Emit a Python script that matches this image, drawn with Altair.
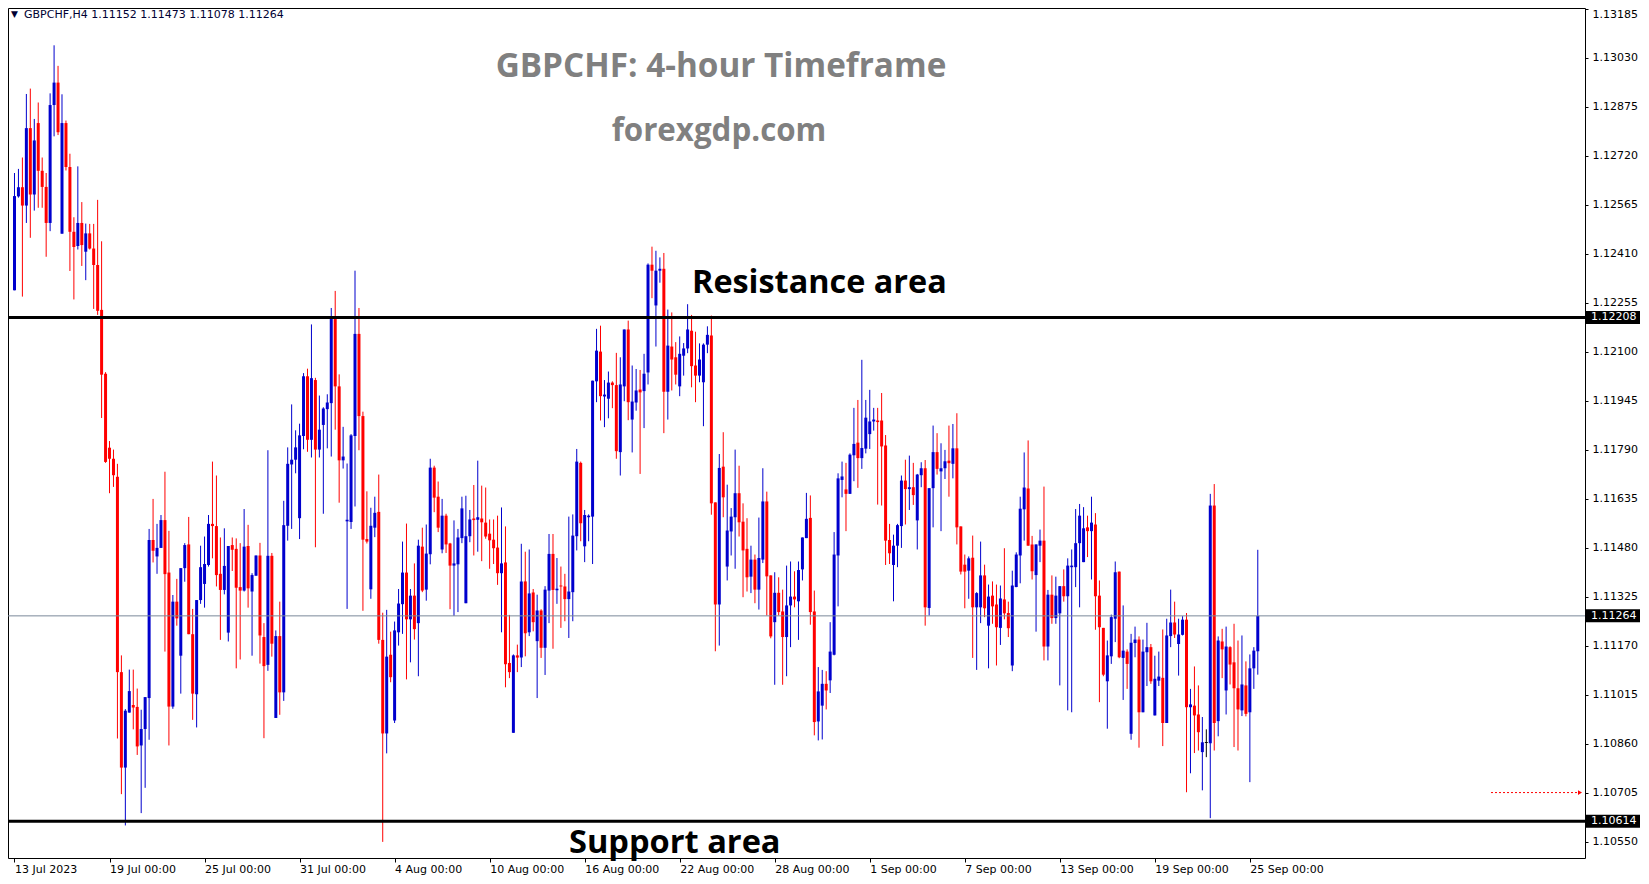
import altair as alt
import pandas as pd

# ---------------- data ----------------
OPEN = [
1.12294,1.12591,1.12620,1.12562,1.12807,1.12597,1.12823,1.12672,1.12621,1.12507,
1.12880,1.12951,1.12473,1.12823,1.12684,1.12479,1.12434,1.12507,1.12416,1.12474,
1.12426,1.12374,1.12232,1.12030,1.11796,1.11761,1.11704,1.11086,1.10784,1.10958,
1.10982,1.10976,1.10854,1.10906,1.11004,1.11504,1.11452,1.11479,1.11567,1.11401,
1.10977,1.11309,1.11138,1.11415,1.11490,1.11206,1.11016,1.11314,1.11365,1.11425,
1.11555,1.11548,1.11397,1.11346,1.11211,1.11488,1.11476,1.11355,1.11344,1.11485,
1.11341,1.11391,1.11455,1.11197,1.11109,1.11454,1.10941,1.11200,1.11022,1.11549,
1.11743,1.11758,1.11573,1.11833,1.12022,1.11821,1.12010,1.11790,1.11868,1.11918,
1.11937,1.12206,1.11990,1.11756,1.11563,1.11561,1.11833,1.12156,1.11896,1.11507,
1.11348,1.11543,1.11593,1.11188,1.10892,1.11141,1.10933,1.11212,1.11301,1.11401,
1.11253,1.11328,1.11241,1.11483,1.11347,1.11459,1.11733,1.11641,1.11474,1.11581,
1.11493,1.11423,1.11427,1.11510,1.11304,1.11516,1.11572,1.11568,1.11572,1.11559,
1.11524,1.11505,1.11480,1.11399,1.11433,1.11115,1.10894,1.11139,1.11132,1.11373,
1.11212,1.11338,1.11184,1.11281,1.11163,1.11344,1.11460,1.11345,1.11360,1.11357,
1.11317,1.11339,1.11516,1.11748,1.11484,1.11576,1.11578,1.12006,1.12100,1.11958,
1.11951,1.12002,1.11994,1.11782,1.11990,1.12170,1.11885,1.11939,1.11980,1.11975,
1.12034,1.12375,1.12246,1.12356,1.12362,1.11973,1.12116,1.12082,1.11990,1.12087,
1.12110,1.12166,1.12056,1.12024,1.12003,1.12122,1.12151,1.11623,1.11300,1.11736,
1.11420,1.11531,1.11576,1.11652,1.11562,1.11476,1.11388,1.11442,1.11347,1.11442,
1.11626,1.11392,1.11244,1.11337,1.11278,1.11197,1.11297,1.11325,1.11310,1.11411,
1.11510,1.11574,1.11278,1.10930,1.10980,1.11049,1.11060,1.11141,1.11455,1.11694,
1.11664,1.11650,1.11772,1.11812,1.11763,1.11793,1.11839,1.11879,1.11882,1.11882,
1.11803,1.11504,1.11425,1.11486,1.11548,1.11692,1.11665,1.11671,1.11566,1.11709,
1.11731,1.11289,1.11668,1.11782,1.11721,1.11731,1.11755,1.11745,1.11794,1.11547,
1.11426,1.11407,1.11448,1.11291,1.11291,1.11392,1.11233,1.11328,1.11300,1.11226,
1.11316,1.11273,1.11107,1.11355,1.11455,1.11601,1.11667,1.11490,1.11393,1.11486,
1.11502,1.11167,1.11331,1.11257,1.11272,1.11358,1.11326,1.11418,1.11418,1.11494,
1.11434,1.11544,1.11532,1.11553,1.11328,1.11226,1.11057,1.11136,1.11255,1.11404,
1.11131,1.11151,1.10891,1.11178,1.11189,1.10959,1.11149,1.11165,1.10949,1.11059,
1.11068,1.10925,1.11200,1.11243,1.11175,1.11204,1.11252,1.10975,1.10980,1.10952,
1.10833,1.10862,1.10861,1.11613,1.10931,1.11183,1.11028,1.11165,1.11117,1.11035,
1.10965,1.11044,1.10959,1.11098,1.11152]

HIGH = [
1.12665,1.12678,1.12714,1.12915,1.12932,1.12836,1.12888,1.12714,1.12665,1.12917,
1.13069,1.13004,1.12914,1.12831,1.12726,1.12525,1.12686,1.12573,1.12505,1.12504,
1.12504,1.12580,1.12449,1.12035,1.11817,1.11790,1.11745,1.11139,1.10969,1.11094,
1.11094,1.11034,1.10967,1.11007,1.11539,1.11634,1.11555,1.11583,1.11720,1.11533,
1.11330,1.11381,1.11415,1.11494,1.11577,1.11286,1.11314,1.11486,1.11515,1.11583,
1.11752,1.11708,1.11512,1.11541,1.11485,1.11512,1.11509,1.11494,1.11602,1.11552,
1.11399,1.11455,1.11495,1.11241,1.11788,1.11463,1.11218,1.11309,1.11628,1.11797,
1.11933,1.11851,1.11872,1.12032,1.12046,1.12186,1.12017,1.11961,1.11924,1.11965,
1.12238,1.12292,1.12028,1.11862,1.11746,1.11839,1.12356,1.12238,1.11910,1.11658,
1.11606,1.11641,1.11711,1.11274,1.11283,1.11214,1.11246,1.11349,1.11499,1.11556,
1.11349,1.11430,1.11505,1.11543,1.11553,1.11761,1.11739,1.11689,1.11634,1.11587,
1.11495,1.11566,1.11539,1.11641,1.11644,1.11599,1.11678,1.11755,1.11676,1.11670,
1.11569,1.11569,1.11581,1.11607,1.11547,1.11267,1.11142,1.11173,1.11492,1.11467,
1.11474,1.11349,1.11331,1.11285,1.11358,1.11523,1.11523,1.11447,1.11420,1.11397,
1.11578,1.11585,1.11792,1.11752,1.11599,1.11585,1.12008,1.12172,1.12182,1.12010,
1.12037,1.12006,1.12096,1.12082,1.12170,1.12198,1.12056,1.12045,1.12042,1.12093,
1.12379,1.12432,1.12419,1.12398,1.12412,1.12233,1.12224,1.12130,1.12148,1.12127,
1.12250,1.12216,1.12163,1.12126,1.12126,1.12180,1.12214,1.11623,1.11776,1.11845,
1.11679,1.11605,1.11790,1.11739,1.11620,1.11573,1.11486,1.11458,1.11575,1.11731,
1.11657,1.11392,1.11402,1.11386,1.11347,1.11423,1.11436,1.11405,1.11436,1.11512,
1.11653,1.11645,1.11344,1.11102,1.11093,1.11089,1.11244,1.11529,1.11715,1.11752,
1.11748,1.11778,1.11922,1.11947,1.12074,1.11947,1.11979,1.11922,1.11922,1.11969,
1.11836,1.11555,1.11521,1.11555,1.11708,1.11758,1.11771,1.11748,1.11713,1.11750,
1.11757,1.11668,1.11866,1.11842,1.11810,1.11789,1.11866,1.11871,1.11905,1.11547,
1.11458,1.11452,1.11518,1.11339,1.11499,1.11426,1.11363,1.11373,1.11363,1.11360,
1.11478,1.11309,1.11407,1.11465,1.11641,1.11781,1.11819,1.11517,1.11490,1.11537,
1.11673,1.11346,1.11392,1.11388,1.11358,1.11411,1.11446,1.11474,1.11602,1.11618,
1.11608,1.11581,1.11641,1.11589,1.11376,1.11226,1.11186,1.11268,1.11436,1.11404,
1.11297,1.11158,1.11207,1.11230,1.11199,1.11189,1.11242,1.11175,1.11138,1.11151,
1.11221,1.11255,1.11347,1.11309,1.11255,1.11263,1.11273,1.11033,1.11104,1.11044,
1.10944,1.10905,1.11650,1.11681,1.11199,1.11223,1.11230,1.11168,1.11239,1.11186,
1.11202,1.11120,1.11142,1.11165,1.11473]

LOW = [
1.12294,1.12587,1.12274,1.12507,1.12460,1.12546,1.12555,1.12555,1.12400,1.12481,
1.12781,1.12785,1.12473,1.12673,1.12355,1.12265,1.12423,1.12371,1.12326,1.12423,
1.12235,1.12216,1.11890,1.11748,1.11652,1.11672,1.10876,1.10700,1.10601,1.10958,
1.10905,1.10824,1.10640,1.10720,1.10872,1.11433,1.11397,1.11479,1.11151,1.10854,
1.10970,1.11233,1.11018,1.11372,1.11206,1.10935,1.10911,1.11302,1.11290,1.11420,
1.11446,1.11357,1.11188,1.11332,1.11183,1.11406,1.11098,1.11126,1.11341,1.11290,
1.11138,1.11391,1.11113,1.10877,1.11090,1.11135,1.10941,1.10951,1.10995,1.11502,
1.11539,1.11715,1.11507,1.11791,1.11783,1.11765,1.11481,1.11765,1.11587,1.11794,
1.11768,1.11853,1.11622,1.11730,1.11286,1.11539,1.11610,1.11788,1.11280,1.11493,
1.11318,1.11513,1.11176,1.10549,1.10829,1.11054,1.10925,1.11170,1.11207,1.11063,
1.11117,1.11189,1.11073,1.11339,1.11312,1.11427,1.11592,1.11529,1.11462,1.11463,
1.11285,1.11264,1.11276,1.11494,1.11304,1.11497,1.11455,1.11467,1.11437,1.11508,
1.11413,1.11428,1.11362,1.11212,1.11038,1.11067,1.10894,1.11086,1.11102,1.11136,
1.11200,1.11215,1.11004,1.11131,1.11077,1.11241,1.11160,1.11302,1.11226,1.11247,
1.11194,1.11247,1.11471,1.11500,1.11434,1.11500,1.11428,1.11940,1.11882,1.11861,
1.11889,1.11921,1.11761,1.11708,1.11943,1.11883,1.11781,1.11913,1.11713,1.11858,
1.11996,1.12269,1.12116,1.12318,1.11842,1.11885,1.11977,1.11996,1.11959,1.12024,
1.12095,1.11987,1.11940,1.12003,1.11864,1.12095,1.11584,1.11152,1.11170,1.11576,
1.11376,1.11455,1.11413,1.11515,1.11323,1.11341,1.11336,1.11304,1.11284,1.11431,
1.11265,1.11193,1.11046,1.11265,1.11046,1.11073,1.11165,1.11291,1.11188,1.11376,
1.11510,1.11236,1.10886,1.10870,1.10873,1.10968,1.11020,1.11139,1.11294,1.11639,
1.11532,1.11650,1.11690,1.11669,1.11729,1.11778,1.11792,1.11850,1.11616,1.11613,
1.11425,1.11428,1.11310,1.11418,1.11479,1.11553,1.11599,1.11615,1.11474,1.11671,
1.11233,1.11265,1.11544,1.11711,1.11532,1.11697,1.11641,1.11699,1.11490,1.11395,
1.11288,1.11318,1.11131,1.11093,1.11241,1.11260,1.11098,1.11239,1.11107,1.11172,
1.11253,1.11197,1.11089,1.11355,1.11367,1.11502,1.11486,1.11379,1.11214,1.11434,
1.11123,1.11123,1.11239,1.11239,1.11044,1.11309,1.10965,1.10959,1.11355,1.11291,
1.11434,1.11450,1.11379,1.11220,1.10991,1.11073,1.10907,1.11112,1.11181,1.11130,
1.10998,1.11033,1.10872,1.11133,1.10847,1.10959,1.11042,1.11049,1.10949,1.11042,
1.10852,1.10925,1.11165,1.11194,1.11075,1.11202,1.10706,1.10766,1.10830,1.10838,
1.10712,1.10817,1.10624,1.10838,1.10883,1.11067,1.10952,1.11047,1.10849,1.10838,
1.10947,1.10946,1.10738,1.11033,1.11078]

CLOSE = [
1.12592,1.12620,1.12562,1.12807,1.12597,1.12768,1.12672,1.12621,1.12507,1.12880,
1.12951,1.12794,1.12823,1.12684,1.12479,1.12431,1.12507,1.12437,1.12474,1.12426,
1.12374,1.12229,1.12027,1.11751,1.11761,1.11709,1.11086,1.10784,1.10964,1.11026,
1.10974,1.10851,1.10906,1.11007,1.11504,1.11470,1.11479,1.11567,1.11396,1.10977,
1.11309,1.11256,1.11415,1.11488,1.11206,1.11018,1.11314,1.11418,1.11428,1.11555,
1.11548,1.11393,1.11346,1.11422,1.11485,1.11473,1.11353,1.11344,1.11483,1.11351,
1.11393,1.11455,1.11202,1.11105,1.11454,1.11176,1.11200,1.11022,1.11551,1.11745,
1.11758,1.11797,1.11835,1.12022,1.11821,1.12016,1.11790,1.11853,1.11920,1.11939,
1.12206,1.11990,1.11756,1.11768,1.11568,1.11835,1.12156,1.11896,1.11505,1.11499,
1.11549,1.11590,1.11188,1.10892,1.11135,1.11070,1.11218,1.11303,1.11401,1.11253,
1.11328,1.11222,1.11486,1.11344,1.11461,1.11733,1.11638,1.11543,1.11581,1.11490,
1.11423,1.11430,1.11512,1.11604,1.11516,1.11569,1.11567,1.11576,1.11560,1.11515,
1.11503,1.11478,1.11399,1.11430,1.11111,1.11086,1.11139,1.11132,1.11373,1.11209,
1.11335,1.11244,1.11281,1.11163,1.11347,1.11460,1.11346,1.11350,1.11357,1.11317,
1.11341,1.11518,1.11752,1.11557,1.11583,1.11581,1.12008,1.12103,1.11959,1.11964,
1.12002,1.11994,1.11785,1.11996,1.12170,1.11940,1.11942,1.11977,1.11971,1.12030,
1.12375,1.12356,1.12356,1.12362,1.11973,1.12119,1.12075,1.12027,1.12093,1.12110,
1.12170,1.12054,1.12024,1.12075,1.12122,1.12153,1.11620,1.11300,1.11732,1.11639,
1.11534,1.11578,1.11652,1.11560,1.11471,1.11386,1.11442,1.11347,1.11447,1.11626,
1.11389,1.11199,1.11337,1.11276,1.11197,1.11297,1.11325,1.11316,1.11409,1.11512,
1.11571,1.11276,1.10928,1.11025,1.11049,1.11028,1.11151,1.11458,1.11699,1.11705,
1.11650,1.11774,1.11808,1.11763,1.11795,1.11891,1.11879,1.11885,1.11877,1.11800,
1.11502,1.11462,1.11486,1.11551,1.11692,1.11665,1.11671,1.11646,1.11711,1.11731,
1.11291,1.11668,1.11782,1.11729,1.11731,1.11753,1.11747,1.11794,1.11544,1.11404,
1.11404,1.11446,1.11291,1.11336,1.11392,1.11288,1.11325,1.11294,1.11228,1.11319,
1.11272,1.11225,1.11360,1.11458,1.11603,1.11670,1.11486,1.11405,1.11490,1.11502,
1.11167,1.11331,1.11257,1.11328,1.11358,1.11326,1.11423,1.11423,1.11494,1.11581,
1.11541,1.11532,1.11559,1.11326,1.11228,1.11078,1.11139,1.11260,1.11402,1.11133,
1.11154,1.11112,1.11179,1.11189,1.10959,1.11151,1.11165,1.11057,1.11065,1.11072,
1.10925,1.11202,1.11243,1.11205,1.11205,1.11252,1.10975,1.10984,1.10949,1.10896,
1.10864,1.10862,1.11613,1.10925,1.11186,1.11158,1.11167,1.11110,1.11035,1.10968,
1.11047,1.10954,1.11098,1.11154,1.11264]

DATE_TICKS = [0, 24, 48, 72, 96, 120, 144, 168, 192, 216, 240, 264, 288, 312]
DATE_LABELS = ["13 Jul 2023", "19 Jul 00:00", "25 Jul 00:00", "31 Jul 00:00",
               "4 Aug 00:00", "10 Aug 00:00", "16 Aug 00:00", "22 Aug 00:00",
               "28 Aug 00:00", "1 Sep 00:00", "7 Sep 00:00", "13 Sep 00:00",
               "19 Sep 00:00", "25 Sep 00:00"]
PRICE_TICKS = [1.13185, 1.13030, 1.12875, 1.12720, 1.12565, 1.12410, 1.12255,
               1.12100, 1.11945, 1.11790, 1.11635, 1.11480, 1.11325, 1.11170,
               1.11015, 1.10860, 1.10705, 1.10550]
LEVELS = [1.12208, 1.10614]          # resistance, support
LAST_PRICE = 1.11264
ALERT_LEVEL = 1.10705
TAGGED = [1.12208, 1.11264, 1.10614]
HEADER = "GBPCHF,H4  1.11152 1.11473 1.11078 1.11264"

# ---------------- layout ----------------
W, H = 1577, 850
FONT = "DejaVu Sans"
BIG = "Open Sans"

df = pd.DataFrame({"i": range(len(OPEN)), "o": OPEN, "h": HIGH, "l": LOW, "c": CLOSE})
df["top"] = df[["o", "c"]].max(axis=1)
df["bot"] = df[["o", "c"]].min(axis=1)
thin = (df["top"] - df["bot"]) < 0.00003
df.loc[thin, "top"] = df.loc[thin, "bot"] + 0.00003
df["dir"] = ["up" if c > o else ("down" if c < o else "flat") for o, c in zip(df.o, df.c)]

XS = alt.Scale(domain=[-0.375, 395.375], nice=False, zero=False)
YS = alt.Scale(domain=[1.10498, 1.13187], nice=False, zero=False)

label_arr = "[" + ",".join("'" + s + "'" for s in DATE_LABELS) + "]"
x_axis = alt.Axis(values=DATE_TICKS, labelExpr=label_arr + "[round(datum.value/24)]",
                  domain=False, grid=False, ticks=True, tickSize=4, tickColor="black",
                  labelAlign="left", labelBaseline="top", labelPadding=1,
                  labelFont=FONT, labelFontSize=11, labelColor="black",
                  labelOverlap=False, labelFlush=False, labelBound=False)
y_axis = alt.Axis(orient="right", values=PRICE_TICKS, format=".5f", domain=False,
                  grid=False, ticks=True, tickSize=3, tickColor="black",
                  labelPadding=4, labelAlign="left",
                  labelBaseline={"condition": {"test": "datum.value > 1.1318", "value": "top"},
                                 "value": "middle"},
                  labelFont=FONT, labelFontSize=11, labelColor="black",
                  labelOverlap=False, labelFlush=False, labelBound=False)

def Y(field):
    return alt.Y(field, scale=YS, axis=y_axis, title=None)

color = alt.Color("dir:N", scale=alt.Scale(domain=["up", "down", "flat"],
                                           range=["#0000CD", "#FF0000", "#000000"]),
                  legend=None)

wicks = alt.Chart(df).mark_rule(strokeWidth=1).encode(
    x=alt.X("i:Q", scale=XS, axis=x_axis, title=None),
    y=Y("l:Q"), y2="h:Q", color=color)

bodies = alt.Chart(df).mark_bar(size=3).encode(
    x=alt.X("i:Q", scale=XS, axis=x_axis, title=None),
    y=Y("top:Q"), y2="bot:Q", color=color)

lv = pd.DataFrame({"p": LEVELS})
level_lines = alt.Chart(lv).mark_rule(color="black", strokeWidth=3).encode(
    y=Y("p:Q"), x=alt.value(0), x2=alt.value(W))

lp = pd.DataFrame({"p": [LAST_PRICE]})
last_line = alt.Chart(lp).mark_rule(color="#7a8899", strokeWidth=1).encode(
    y=Y("p:Q"), x=alt.value(0), x2=alt.value(W))

tg = pd.DataFrame({"p": TAGGED})
tag_boxes = alt.Chart(tg).mark_rule(color="black", strokeWidth=13, strokeCap="butt").encode(
    y=Y("p:Q"), x=alt.value(W + 1), x2=alt.value(W + 55))
tag_text = alt.Chart(tg).mark_text(color="white", font=FONT, fontSize=11, align="left",
                                   baseline="middle").encode(
    y=Y("p:Q"), x=alt.value(W + 6), text=alt.Text("p:Q", format=".5f"))

al = pd.DataFrame({"p": [ALERT_LEVEL]})
alert_line = alt.Chart(al).mark_rule(color="red", strokeWidth=1, strokeDash=[2, 2]).encode(
    y=Y("p:Q"), x=alt.value(1483), x2=alt.value(1570))
alert_head = alt.Chart(al).mark_point(shape="triangle-right", filled=True, color="red",
                                      size=22, opacity=1).encode(
    y=Y("p:Q"), x=alt.value(1572))

def label(txt, x, y, size, color, weight="normal", font=BIG, align="center"):
    return alt.Chart(pd.DataFrame({"t": [txt]})).mark_text(
        font=font, fontSize=size, fontWeight=weight, color=color, align=align,
        baseline="alphabetic").encode(text="t:N", x=alt.value(x), y=alt.value(y))

texts = [
    label("▼", 3, 9, 9, "#000033", font="DejaVu Sans", align="left"),
    label(HEADER, 16, 9.5, 11, "#000033", font=FONT, align="left"),
    label("GBPCHF: 4-hour Timeframe", 713, 69, 33.3, "#808080", "bold"),
    label("forexgdp.com", 711, 133, 31.3, "#808080", "bold"),
    label("Resistance area", 684, 285, 32.4, "black", "bold", align="left"),
    label("Support area", 561, 845, 32.6, "black", "bold", align="left"),
]

chart = alt.layer(wicks, bodies, last_line, level_lines, alert_line, alert_head,
                  tag_boxes, tag_text, *texts).properties(
    width=W, height=H,
    autosize=alt.AutoSizeParams(type="none"),
    padding={"left": 0, "top": 0, "right": 55, "bottom": 18},
    background="white",
).configure_view(stroke="black", strokeWidth=1)

chart.save("out.html", embed_options={"renderer": "svg", "actions": False})
